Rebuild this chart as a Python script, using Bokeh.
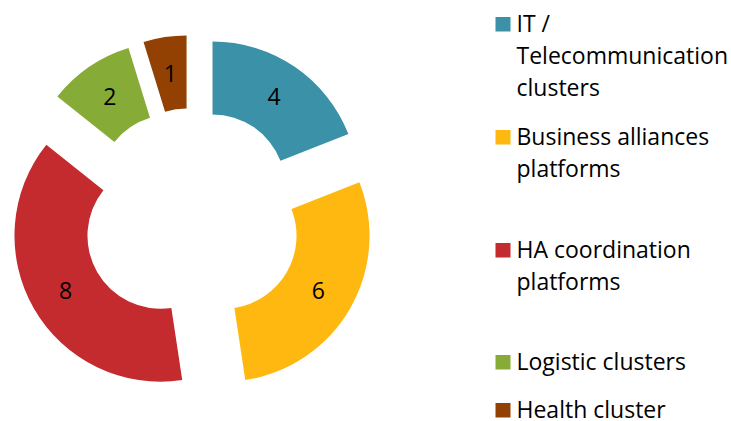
import math
from bokeh.plotting import figure
from bokeh.models import ColumnDataSource, Range1d
from bokeh.core.properties import value
from bokeh.embed import file_html
from bokeh.resources import INLINE

# ---- data ----
categories = ["IT / Telecommunication clusters", "Business alliances platforms",
              "HA coordination platforms", "Logistic clusters", "Health cluster"]
legend_lines = [["IT /", "Telecommunication", "clusters"],
                ["Business alliances", "platforms"],
                ["HA coordination", "platforms"],
                ["Logistic clusters"],
                ["Health cluster"]]
counts = [4, 6, 8, 2, 1]
colors = ["#3A91A8", "#FFB80F", "#C32B2F", "#86AB37", "#934103"]

# ---- layout (pixel space, y measured downward from the window top) ----
W, H = 731, 421
center_x, center_y = 191.5, 217.0
r_out, r_in = 146.0, 73.0
explode = 36.4
legend_first_baselines = [31, 144, 257, 369, 417]
line_gap = 32
text_shift = -9
FONT = "Open Sans"
FSIZE = "23px"

def Y(y):  # convert downward pixel y into data y (upward)
    return H - y

total = sum(counts)
xs, ys, starts, ends, lx, ly = [], [], [], [], [], []
acc = 0.0
for v in counts:
    t1 = acc / total * 2 * math.pi          # clockwise from 12 o'clock
    t2 = (acc + v) / total * 2 * math.pi
    tm = (t1 + t2) / 2
    cx = center_x + explode * math.sin(tm)
    cy = center_y - explode * math.cos(tm)
    xs.append(cx)
    ys.append(Y(cy))
    starts.append(math.pi / 2 - t2)
    ends.append(math.pi / 2 - t1)
    rm = (r_out + r_in) / 2
    lx.append(cx + rm * math.sin(tm))
    ly.append(Y(cy - rm * math.cos(tm)))
    acc += v

src = ColumnDataSource(dict(x=xs, y=ys, start=starts, end=ends, color=colors,
                            lx=lx, ly=ly, txt=[str(c) for c in counts]))

p = figure(width=W, height=H, x_range=Range1d(0, W), y_range=Range1d(0, H),
           output_backend="svg", toolbar_location=None, min_border=0,
           x_axis_location=None, y_axis_location=None)
p.grid.visible = False
p.outline_line_color = None
p.background_fill_color = "white"
p.border_fill_color = "white"

p.annular_wedge(x="x", y="y", inner_radius=r_in, outer_radius=r_out,
                start_angle="start", end_angle="end", fill_color="color",
                line_color=None, source=src)

p.text(x="lx", y="ly", text="txt", source=src, text_font=value(FONT),
       text_font_size=FSIZE, text_align="center", text_baseline="middle",
       text_color="black")

# legend
sq_x0, sq_x1 = 495, 510
sq_h = 14.5
text_x = 516
tx, ty, tt = [], [], []
qx, qy, qc = [], [], []
for lines, b, c in zip(legend_lines, legend_first_baselines, colors):
    qx.append((sq_x0 + sq_x1) / 2)
    qy.append(Y(b - sq_h / 2))
    qc.append(c)
    for i, ln in enumerate(lines):
        tx.append(text_x)
        ty.append(Y(b + i * line_gap + text_shift))
        tt.append(ln)

p.rect(x=qx, y=qy, width=sq_x1 - sq_x0, height=sq_h, fill_color=qc, line_color=None)
p.text(x=tx, y=ty, text=tt, text_font=value(FONT), text_font_size=FSIZE,
       text_align="left", text_baseline="alphabetic", text_color="black")

open("out.html", "w").write(file_html(p, INLINE))
